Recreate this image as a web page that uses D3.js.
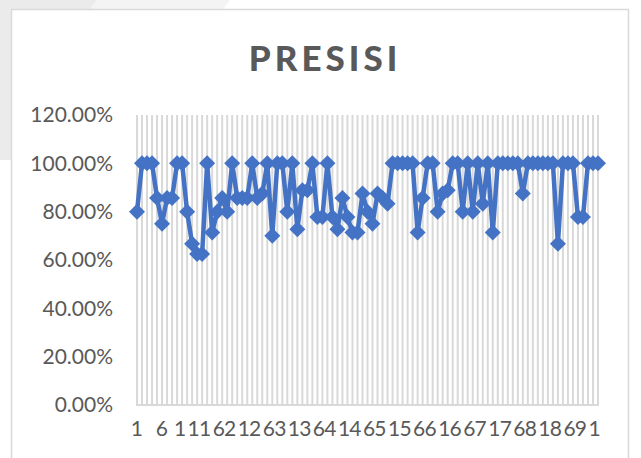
<!DOCTYPE html>
<html>
<head>
<meta charset="utf-8">
<script src="https://cdn.jsdelivr.net/npm/d3@7"></script>
<style>
  body { margin: 0; background: #fff; }
  text { font-family: Lato, "Liberation Sans", sans-serif; }
</style>
</head>
<body>
<svg id="chart" width="641" height="458"></svg>
<script>
const title = 'PRESISI';

// precision per test case (1..93)
const presisi = [
  0.80, 1.00, 1.00, 1.00, 0.857, 0.75, 0.857, 0.857, 1.00, 1.00,
  0.80, 0.667, 0.625, 0.625, 1.00, 0.714, 0.80, 0.857, 0.80, 1.00,
  0.857, 0.857, 0.857, 1.00, 0.857, 0.875, 1.00, 0.70, 1.00, 1.00,
  0.80, 1.00, 0.727, 0.889, 0.889, 1.00, 0.778, 0.778, 1.00, 0.778,
  0.727, 0.857, 0.778, 0.714, 0.714, 0.875, 0.80, 0.75, 0.875, 0.857,
  0.833, 1.00, 1.00, 1.00, 1.00, 1.00, 0.714, 0.857, 1.00, 1.00,
  0.80, 0.875, 0.889, 1.00, 1.00, 0.80, 1.00, 0.80, 1.00, 0.833,
  1.00, 0.714, 1.00, 1.00, 1.00, 1.00, 1.00, 0.875, 1.00, 1.00,
  1.00, 1.00, 1.00, 1.00, 0.667, 1.00, 1.00, 1.00, 0.778, 0.778,
  1.00, 1.00, 1.00
];
const categories = presisi.map((d, i) => i + 1);
const yTicks = [0, 0.2, 0.4, 0.6, 0.8, 1.0, 1.2];

const svg = d3.select('#chart');
const blue = '#4472C4';
const grey = '#595959';
const gridCol = '#d9d9d9';

// backdrop bits around the chart frame
svg.append('path')
  .attr('d', 'M0,0H97L90,9H12V160H0Z')
  .attr('fill', '#ebebeb');
svg.append('path')
  .attr('d', 'M97,0H230L223,9H90Z')
  .attr('fill', '#f4f4f4');
svg.append('rect')
  .attr('x', 11.5).attr('y', 9.5)
  .attr('width', 617).attr('height', 460)
  .attr('fill', '#fff').attr('stroke', gridCol).attr('stroke-width', 1.5);

const x = d3.scalePoint().domain(categories).range([137, 598]);
const y = d3.scaleLinear().domain([0, 1.2]).range([405, 115]);

// vertical category gridlines
svg.append('g').selectAll('line').data(categories).enter().append('line')
  .attr('x1', d => x(d)).attr('x2', d => x(d))
  .attr('y1', y(1.2)).attr('y2', y(0))
  .attr('stroke', gridCol).attr('stroke-width', 2);

svg.append('line')
  .attr('x1', x(1) - 1).attr('x2', x(categories.length) + 1)
  .attr('y1', y(0)).attr('y2', y(0))
  .attr('stroke', gridCol).attr('stroke-width', 2);

// y axis labels
const yAxis = d3.axisLeft(y).tickValues(yTicks)
  .tickFormat(d => (d * 100).toFixed(2) + '%')
  .tickSize(0).tickPadding(0);
svg.append('g').attr('transform', 'translate(113,0)').call(yAxis)
  .call(g => g.select('.domain').remove())
  .selectAll('text')
  .attr('fill', grey).style('font-size', '21px')
  .style('font-family', 'Lato, "Liberation Sans", sans-serif');

// x axis labels, every 5th case
const xAxis = d3.axisBottom(x)
  .tickValues(categories.filter(d => (d - 1) % 5 === 0))
  .tickSize(0).tickPadding(0);
svg.append('g').attr('transform', 'translate(0,421)').call(xAxis)
  .call(g => g.select('.domain').remove())
  .selectAll('text')
  .attr('fill', grey).style('font-size', '21px')
  .style('letter-spacing', '1.5px')
  .style('font-family', 'Lato, "Liberation Sans", sans-serif');

// series
const line = d3.line().x((d, i) => x(categories[i])).y(d => y(d));
svg.append('path').datum(presisi)
  .attr('d', line)
  .attr('fill', 'none').attr('stroke', blue)
  .attr('stroke-width', 4.5).attr('stroke-linejoin', 'round');

const r = 8;
svg.append('g').selectAll('path').data(presisi).enter().append('path')
  .attr('transform', (d, i) => `translate(${x(categories[i])},${y(d)})`)
  .attr('d', `M0,${-r}L${r},0L0,${r}L${-r},0Z`)
  .attr('fill', blue);

// title
svg.append('text')
  .attr('x', 325).attr('y', 71)
  .attr('text-anchor', 'middle')
  .attr('fill', grey)
  .style('font-size', '35px').style('font-weight', '900')
  .style('letter-spacing', '4px')
  .text(title);
</script>
</body>
</html>
